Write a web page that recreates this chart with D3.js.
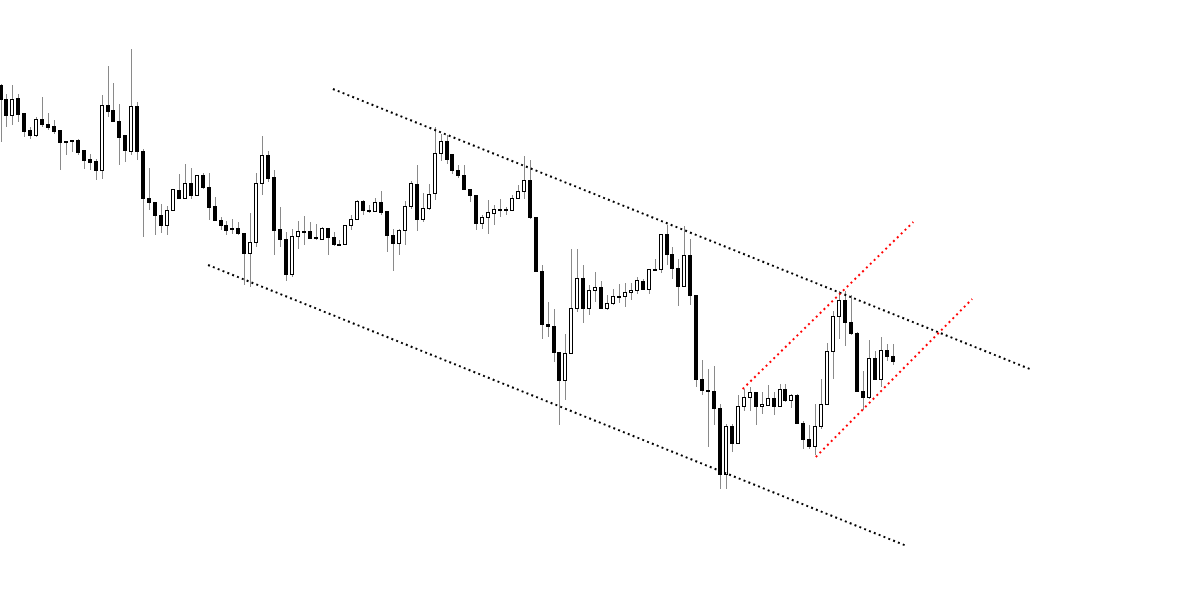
<!DOCTYPE html>
<html>
<head>
<meta charset="utf-8">
<script src="https://cdn.jsdelivr.net/npm/d3@7/dist/d3.min.js"></script>
<style>
  html, body { margin: 0; padding: 0; background: #fff; }
  svg { display: block; }
</style>
</head>
<body>
<div id="chart"></div>
<script>
// OHLC per bar (price points, higher = up)
var opens = [517,503,487,504,489,472,467,483,478,476,472,461,461,462,452,443,441,432,497,492,
  481,467,451,496,451,404,400,387,377,392,412,404,419,407,427,415,396,382,377,374,
  374,369,349,360,419,447,425,373,363,328,366,371,371,364,363,374,365,358,358,377,
  383,401,392,391,400,391,367,359,372,396,418,383,394,409,449,461,448,432,427,413,
  407,379,385,389,393,393,392,404,411,422,385,331,278,276,250,222,249,294,324,294,
  312,315,294,299,306,306,310,312,321,313,333,333,368,348,334,316,347,307,223,212,
  211,194,128,176,159,196,205,210,196,197,204,196,213,202,207,179,163,156,176,198,
  251,286,302,280,269,211,205,244,223,252,246];
var highs = [518,508,517,508,489,475,485,505,489,482,472,461,462,463,452,448,443,507,536,519,
  498,467,553,500,453,434,400,398,396,413,428,438,434,427,429,429,405,385,381,383,
  380,369,389,429,466,451,432,395,370,373,381,386,380,378,375,374,370,362,377,387,
  402,402,397,404,411,391,373,373,401,421,437,409,418,475,468,467,448,437,437,413,
  407,387,402,397,403,395,407,417,446,442,385,337,300,293,250,268,353,353,337,317,
  330,321,307,313,318,319,319,325,323,333,343,368,377,355,343,376,363,307,242,233,
  236,198,178,178,207,213,215,210,210,217,210,218,218,208,208,181,177,198,223,259,
  291,311,311,307,270,231,262,251,265,258,258];
var lows = [460,475,477,480,465,463,465,475,472,468,432,447,450,447,433,432,422,423,485,481,
  437,440,447,442,365,392,367,369,367,392,403,403,403,407,413,382,381,372,367,368,
  367,317,315,355,407,420,347,355,321,325,353,357,363,362,363,347,356,357,357,372,
  383,387,389,390,387,350,331,347,357,393,371,380,392,402,441,438,428,424,412,400,
  372,373,368,377,385,387,391,403,403,383,330,263,265,240,177,202,248,290,279,287,
  300,293,292,297,299,295,302,308,312,308,332,329,337,323,296,315,297,215,207,155,
  177,113,113,150,158,191,191,177,188,197,187,195,200,194,178,153,153,147,173,197,
  223,263,256,267,210,192,203,222,215,241,237];
var closes = [503,487,503,488,471,467,483,478,475,471,460,460,462,450,442,440,432,497,491,481,
  465,452,496,451,404,400,387,377,392,413,404,419,407,427,415,395,382,377,372,373,
  369,349,360,419,447,424,372,363,328,366,371,371,364,365,374,365,358,358,377,383,
  401,392,392,400,390,367,359,372,396,419,383,394,408,449,461,443,432,427,413,407,
  379,385,390,393,393,392,404,411,422,385,331,278,276,250,222,249,294,324,294,312,
  315,294,299,306,306,310,312,322,313,333,333,368,348,334,316,347,307,223,212,211,
  194,128,176,159,196,205,210,196,198,204,196,213,202,207,179,163,156,176,198,251,
  286,302,280,269,211,205,244,223,252,246,241];

// trend lines as [bar index, price] end points
var channelUpper = [[55.9, 513], [173.5, 232]];
var channelLower = [[34.9, 337], [152.4, 56]];
var risingUpper = [[124.8, 213], [153.5, 380]];
var risingLower = [[137.1, 145], [163.4, 303]];

var width = 1200, height = 602;

var bars = opens.map(function(o, i) {
  return { i: i, open: o, high: highs[i], low: lows[i], close: closes[i] };
});

var svg = d3.select("#chart")
  .append("svg")
  .attr("width", width)
  .attr("height", height);

svg.append("rect")
  .attr("width", width)
  .attr("height", height)
  .attr("fill", "#fff");

var x = d3.scaleLinear().domain([0, bars.length - 1]).range([0.5, 892.5]);
var y = d3.scaleLinear().domain([0, 602]).range([602, 0]);

function px(i) { return Math.round(x(i)); }

// wicks
svg.append("g")
  .selectAll("line")
  .data(bars)
  .enter()
  .append("line")
  .attr("x1", function(d) { return px(d.i) + 0.5; })
  .attr("x2", function(d) { return px(d.i) + 0.5; })
  .attr("y1", function(d) { return Math.round(y(d.high)); })
  .attr("y2", function(d) { return Math.round(y(d.low)); })
  .attr("stroke", "#8a8a8a")
  .attr("stroke-width", 1);

// bodies
svg.append("g")
  .selectAll("rect")
  .data(bars)
  .enter()
  .append("rect")
  .attr("x", function(d) { return px(d.i) - 1.5; })
  .attr("y", function(d) { return Math.round(y(Math.max(d.open, d.close))) + 0.5; })
  .attr("width", 3)
  .attr("height", function(d) {
    return Math.max(1, Math.round(y(Math.min(d.open, d.close))) - Math.round(y(Math.max(d.open, d.close))));
  })
  .attr("fill", function(d) { return d.close < d.open ? "#000" : "#fff"; })
  .attr("stroke", "#000")
  .attr("stroke-width", 1);

// dotted trend lines
var line = d3.line()
  .x(function(d) { return x(d[0]); })
  .y(function(d) { return y(d[1]); });

[channelUpper, channelLower].forEach(function(pts) {
  svg.append("path")
    .attr("d", line(pts))
    .attr("fill", "none")
    .attr("stroke", "#000")
    .attr("stroke-width", 2)
    .attr("stroke-dasharray", "2,3.2");
});

[risingUpper, risingLower].forEach(function(pts) {
  svg.append("path")
    .attr("d", line(pts))
    .attr("fill", "none")
    .attr("stroke", "#ff0000")
    .attr("stroke-width", 2)
    .attr("stroke-dasharray", "2,3.4");
});
</script>
</body>
</html>
